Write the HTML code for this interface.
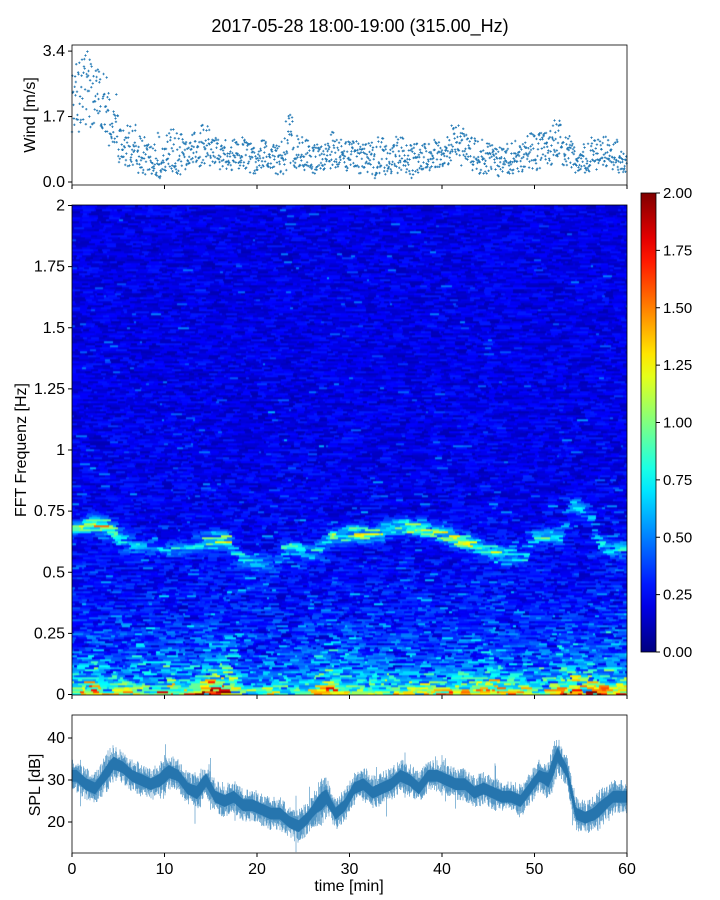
<!DOCTYPE html>
<html><head><meta charset="utf-8"><style>
body{margin:0;background:#fff;font-family:"Liberation Sans",sans-serif}
#wrap{position:relative;width:720px;height:900px}
svg{position:absolute;left:0;top:0}
canvas{position:absolute}
</style></head><body>
<div id="wrap">
<canvas id="heat" width="555" height="490" style="left:72px;top:205px"></canvas>
<svg id="s" width="720" height="900"></svg>
</div>
<script>
// ---- data ----
const minutes=[0,1,2,3,4,5,6,7,8,9,10,11,12,13,14,15,16,17,18,19,20,21,22,23,24,25,26,27,28,29,30,31,32,33,34,35,36,37,38,39,40,41,42,43,44,45,46,47,48,49,50,51,52,53,54,55,56,57,58,59];
const windLow=[1.3,1.5,1.4,1.3,0.9,0.4,0.3,0.2,0.2,0.1,0.2,0.2,0.3,0.2,0.4,0.4,0.3,0.3,0.3,0.2,0.3,0.3,0.2,0.3,0.3,0.3,0.2,0.3,0.3,0.2,0.2,0.2,0.1,0.2,0.2,0.2,0.1,0.2,0.3,0.3,0.4,0.5,0.4,0.3,0.2,0.2,0.1,0.2,0.2,0.3,0.3,0.4,0.6,0.3,0.2,0.2,0.3,0.4,0.3,0.2];
const windHigh=[3.2,3.4,3.1,2.9,2.3,1.4,1.5,1.2,1.1,1.3,1.4,1.3,1.1,1.3,1.5,1.2,1.1,1.1,1.2,1.0,1.1,1.0,1.1,1.8,1.3,1.1,1.0,1.0,1.3,1.1,1.1,1.0,1.1,1.2,1.0,1.2,1.1,1.0,1.0,1.1,1.2,1.5,1.4,1.2,1.1,1.0,0.9,1.1,1.0,1.3,1.3,1.4,1.8,1.2,1.0,1.0,1.2,1.2,1.1,0.9];
const splMean=[31,29,28,31,34,33,31,30,29,30,32,31,28,27,30,26,25,26,24,24,23,22,22,20,19,21,24,26,22,24,28,29,27,28,29,31,30,28,31,31,30,29,29,27,28,27,26,26,25,28,31,30,36,32,22,21,22,24,26,26];
const splSpread=[4,4,4,4,5,4,4,4,4,4,5,4,4,4,5,4,4,4,4,4,4,4,4,4,4,4,4,6,4,4,4,4,4,4,4,4,4,4,4,4,4,4,4,4,4,4,4,4,4,4,4,4,6,4,4,4,4,5,4,4];
const ridgeF=[0.68,0.69,0.70,0.69,0.69,0.64,0.62,0.61,0.60,0.60,0.60,0.59,0.60,0.61,0.63,0.63,0.63,0.63,0.56,0.55,0.54,0.53,0.53,0.60,0.60,0.59,0.58,0.61,0.64,0.65,0.66,0.66,0.65,0.66,0.67,0.68,0.69,0.68,0.68,0.66,0.66,0.65,0.63,0.62,0.60,0.59,0.58,0.58,0.57,0.56,0.64,0.64,0.65,0.64,0.78,0.76,0.75,0.62,0.60,0.60];
const ridgeA=[0.5,0.7,0.9,1.0,0.9,0.5,0.4,0.4,0.3,0.3,0.3,0.3,0.3,0.4,0.6,0.8,0.8,0.7,0.4,0.4,0.3,0.3,0.2,0.5,0.5,0.4,0.4,0.5,0.6,0.7,0.8,0.8,0.7,0.7,0.8,0.9,0.9,0.8,0.8,0.7,0.8,0.9,1.0,0.8,0.7,0.7,0.6,0.5,0.4,0.4,0.5,0.5,0.5,0.4,0.4,0.4,0.3,0.4,0.4,0.4];
const lowA=[1.0,0.8,1.3,1.1,0.7,1.0,0.9,0.7,0.8,0.6,1.0,1.1,0.8,0.7,1.2,1.5,1.6,1.6,1.0,0.6,0.5,0.6,0.7,0.7,0.6,0.5,0.8,1.3,1.5,1.0,0.8,0.9,1.0,0.8,0.8,0.7,0.8,0.8,0.9,0.8,0.9,0.8,1.0,1.1,1.3,1.3,1.1,0.9,0.8,0.7,0.9,0.8,1.1,1.3,1.5,1.2,1.1,1.3,1.2,1.1];
const xTicks=[0,10,20,30,40,50,60];
const windTicks=[0,1.7,3.4];
const freqTicks=[0,0.25,0.5,0.75,1,1.25,1.5,1.75,2];
const freqTickLabels=["0","0.25","0.5","0.75","1","1.25","1.5","1.75","2"];
const splTicks=[20,30,40];
const cbTicks=[0,0.25,0.5,0.75,1,1.25,1.5,1.75,2];

// ---- scales ----
const X=t=>72+t/60*555;
const YW=v=>182-v*38.5;
const YF=f=>694.5-f*244.5;
const YS=v=>822-(v-20)*4.2;
const YC=v=>652-v/2*459;
const svg=document.getElementById('s');const NS="http://www.w3.org/2000/svg";
function mk(tag,at,parent){const e=document.createElementNS(NS,tag);for(const k in at)e.setAttribute(k,at[k]);(parent||svg).appendChild(e);return e;}
function txt(x,y,s,anchor,size,extra){const e=mk('text',Object.assign({x:x,y:y,'text-anchor':anchor,'font-size':size||15,fill:'#000','font-family':'Liberation Sans, sans-serif'},extra||{}));e.textContent=s;return e;}

function jet(v){v=Math.max(0,Math.min(1,v));const c=x=>Math.max(0,Math.min(1,x));
 return [c(1.5-Math.abs(4*v-3)),c(1.5-Math.abs(4*v-2)),c(1.5-Math.abs(4*v-1))].map(x=>Math.round(x*255));}
function hash(i,j){let h=(i*374761393+j*668265263)|0;h=(h^(h>>>13))*1274126177|0;return ((h^(h>>>16))>>>0)/4294967295;}
function interp(arr,t){const i=Math.min(arr.length-1,Math.floor(t));const j=Math.min(arr.length-1,i+1);const f=t-i;return arr[i]*(1-f)+arr[j]*f;}

const cv=document.getElementById('heat');const ctx=cv.getContext('2d');
const nF=245;const ch=490/nF;
for(let k=0;k<nF;k++){const f=(k+0.5)/nF*2;let x=0;let seg=0;
 while(x<555){const w=2+Math.floor(hash(k,seg*3+1)*10);const t=(x+w/2)/555*60;
  const rf=interp(ridgeF,t),ra=interp(ridgeA,t),la=interp(lowA,t);
  const r=hash(k,seg);const r2=hash(seg,k+77);
  const lowish=Math.exp(-f/0.35);
  let v=0.2+0.12*lowish+(r-0.5)*(0.2+0.25*lowish);
  if(r2>0.985)v+=0.2;
  if(r2<0.25*lowish)v+=0.3*hash(seg+5,k);
  v+=ra*Math.exp(-Math.pow((f-rf)/0.03,2))*(0.3+1.2*hash(seg>>1,k+99));
  v+=la*Math.exp(-f/0.05)*(0.2+1.3*hash(seg,k+500))*0.9;
  v+=0.6*la*Math.exp(-f/0.2)*Math.pow(hash(seg,k+900),2);
  const c=jet(v/2);ctx.fillStyle=`rgb(${c[0]},${c[1]},${c[2]})`;
  ctx.fillRect(x,490-(k+1)*ch,w,ch+0.3);x+=w;seg++;}}

const ti=txt(360,32,"2017-05-28 18:00-19:00 (315.00_Hz)",'middle',18);


// ---- wind panel ----
const gw=mk('g',{});
minutes.forEach((m,i)=>{for(let k=0;k<24;k++){const tt=m+k/24;let fr=hash(i,k);
 const v=windLow[i]+(windHigh[i]-windLow[i])*fr;
 const x=X(tt),y=YW(v);
 const p=mk('path',{d:`M${x-1.2},${y}h2.4M${x},${y-1.2}v2.4`,stroke:'#1f77b4','stroke-width':0.8},gw);
 }});
mk('rect',{x:72,y:45,width:555,height:140,fill:'none',stroke:'#000','stroke-width':0.8});
windTicks.forEach(v=>{mk('line',{x1:68,x2:72,y1:YW(v),y2:YW(v),stroke:'#000'});txt(65,YW(v)+5,v.toFixed(1),'end',16);});
xTicks.forEach(v=>mk('line',{x1:X(v),x2:X(v),y1:185,y2:189,stroke:'#000'}));
const wl=txt(0,0,"Wind [m/s]",'middle',16,{transform:'translate(35,115) rotate(-90)'});

mk('rect',{x:72,y:205,width:555,height:490,fill:'none',stroke:'#000','stroke-width':0.8});
freqTicks.forEach((v,i)=>{mk('line',{x1:68,x2:72,y1:YF(v),y2:YF(v),stroke:'#000'});txt(65,YF(v)+5,freqTickLabels[i],'end',16);});
xTicks.forEach(v=>mk('line',{x1:X(v),x2:X(v),y1:695,y2:699,stroke:'#000'}));
const fl=txt(0,0,"FFT Frequenz [Hz]",'middle',16,{transform:'translate(26,450) rotate(-90)'});

const defs=mk('defs',{});const lg=mk('linearGradient',{id:'jg',x1:0,y1:1,x2:0,y2:0},defs);
for(let s=0;s<=20;s++){const c=jet(s/20);mk('stop',{offset:s/20,'stop-color':`rgb(${c[0]},${c[1]},${c[2]})`},lg);}
const cb=mk('rect',{x:641,y:193,width:15,height:459,fill:'url(#jg)',stroke:'#000','stroke-width':0.8});

cbTicks.forEach(v=>{mk('line',{x1:656,x2:660,y1:YC(v),y2:YC(v),stroke:'#000'});txt(663,YC(v)+5,v.toFixed(2),'start',15);});

// ---- SPL panel ----
const gs=mk('g',{});
for(let j=0;j<555*2;j++){const t=j/(555*2)*60;const m=interp(splMean,Math.max(0,t-0.5));const s=interp(splSpread,t);
 const a=hash(j,11),b=hash(j,23);const big=hash(j,37)>0.97?1.8:1;
 const x=72+j/2;
 mk('line',{x1:x,x2:x,y1:YS(m+s*(0.3+0.7*a)*big),y2:YS(m-s*(0.3+0.7*b)*big),stroke:'#1f77b4','stroke-width':0.6,'stroke-opacity':0.85},gs);
 mk('line',{x1:x,x2:x,y1:YS(m+s*0.35),y2:YS(m-s*0.35),stroke:'#1f6ea8','stroke-width':0.6},gs);}
mk('rect',{x:72,y:715,width:555,height:138,fill:'none',stroke:'#000','stroke-width':0.8});
splTicks.forEach(v=>{mk('line',{x1:68,x2:72,y1:YS(v),y2:YS(v),stroke:'#000'});txt(65,YS(v)+5,String(v),'end',16);});
xTicks.forEach(v=>{mk('line',{x1:X(v),x2:X(v),y1:853,y2:857,stroke:'#000'});txt(X(v),874,String(v),'middle',16);});
const sl=txt(0,0,"SPL [dB]",'middle',16,{transform:'translate(40,785) rotate(-90)'});
const xl=txt(349,891,"time [min]",'middle',16);
</script>
</body></html>
